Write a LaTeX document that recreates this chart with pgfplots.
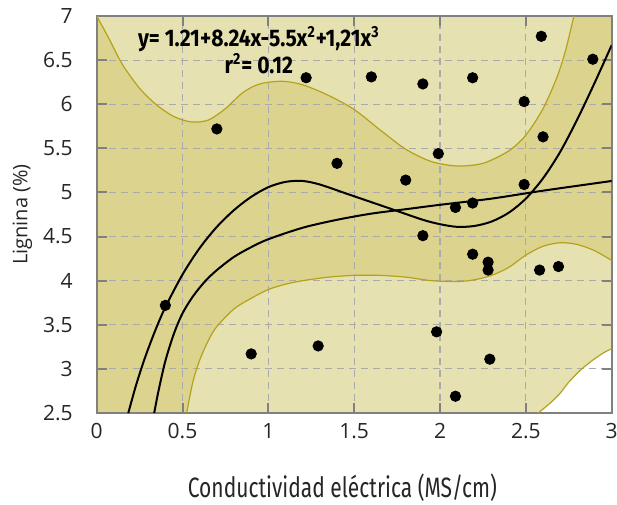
\documentclass[border=0pt]{standalone}
\usepackage{fontspec}
\setmainfont{Open Sans}
\newfontfamily\dinx[FakeStretch=0.75]{Fira Sans}
\newfontfamily\dinb[FakeStretch=0.88]{Fira Sans}
\usepackage{pgfplots}
\pgfplotsset{compat=1.18}

\definecolor{lighttan}{RGB}{230,225,176}
\definecolor{darktan}{RGB}{220,212,142}
\definecolor{olive}{RGB}{181,162,28}
\definecolor{axisgray}{RGB}{128,128,128}
\definecolor{gridgray}{RGB}{170,170,170}

\begin{document}
\begin{tikzpicture}
\begin{axis}[
  scale only axis, width=257.5pt, height=198.5pt,
  xmin=0, xmax=3, ymin=2.5, ymax=7,
  xtick={0,0.5,1,1.5,2,2.5,3},
  ytick={2.5,3,3.5,4,4.5,5,5.5,6,6.5,7},
  set layers,
  axis line style={draw=axisgray, line width=1pt},
  tick style={draw=axisgray, line width=1pt},
  major tick length=5pt,
  tick align=inside,
  grid=major,
  major grid style={draw=gridgray, line width=0.6pt, dash pattern=on 3.5pt off 2.5pt},
  tick label style={font=\fontsize{10.5}{12}\selectfont, text=black!85},
  xticklabel style={yshift=-1.7pt},
  yticklabel style={xshift=-8.5pt},
  /pgf/number format/assume math mode=true,
  xlabel={\dinx Conductividad eléctrica (MS/cm)},
  xlabel style={font=\fontsize{14}{16}\selectfont, text=black!85, at={(axis description cs:0.477,0)}, anchor=north, yshift=-27pt},
  ylabel={Lignina (\%)},
  ylabel style={font=\fontsize{10}{12}\selectfont, text=black!85, at={(axis description cs:-0.144,0.5)}, anchor=center},
]
% light background
\addplot[fill=lighttan, draw=none, on layer=axis background] coordinates {(0,2.5) (3,2.5) (3,7) (0,7) (0,2.5)};
% dark band between the upper and lower limits
\addplot[fill=darktan, draw=none, on layer=axis background] coordinates {
(0,7.0) (0.07,6.75) (0.15,6.45) (0.25,6.18) (0.35,5.99) (0.45,5.86) (0.55,5.80) (0.65,5.82) (0.75,5.95) (0.85,6.13) (0.95,6.23) (1.08,6.26) (1.2,6.22) (1.35,6.10) (1.5,5.94) (1.65,5.71) (1.8,5.49) (1.95,5.35) (2.1,5.30) (2.25,5.33) (2.4,5.47) (2.5,5.65) (2.6,5.95) (2.68,6.30) (2.73,6.60) (2.78,7.0)
(3,7) (3.0,4.23)
(2.9,4.34) (2.8,4.41) (2.7,4.43) (2.6,4.39) (2.5,4.29) (2.4,4.15) (2.3,4.06) (2.2,4.01) (2.1,3.99) (1.95,4.00) (1.8,4.04) (1.65,4.06) (1.5,4.06) (1.35,4.04) (1.2,4.00) (1.1,3.96) (1.0,3.90) (0.90,3.80) (0.80,3.68) (0.70,3.48) (0.65,3.32) (0.60,3.10) (0.56,2.85) (0.524,2.5)
(0,2.5) (0,7.0)};
% white area
\addplot[fill=white, draw=none, on layer=axis background] coordinates {
(2.572,2.5) (2.64,2.61) (2.698,2.72) (2.75,2.85) (2.815,2.98) (2.87,3.07) (2.912,3.13) (2.96,3.19) (3.0,3.23) (3,2.5) (2.572,2.5)};
% band edges
\addplot[olive, line width=0.6pt, smooth] coordinates {
(0,7.0) (0.07,6.75) (0.15,6.45) (0.25,6.18) (0.35,5.99) (0.45,5.86) (0.55,5.80) (0.65,5.82) (0.75,5.95) (0.85,6.13) (0.95,6.23) (1.08,6.26) (1.2,6.22) (1.35,6.10) (1.5,5.94) (1.65,5.71) (1.8,5.49) (1.95,5.35) (2.1,5.30) (2.25,5.33) (2.4,5.47) (2.5,5.65) (2.6,5.95) (2.68,6.30) (2.73,6.60) (2.78,7.0)};
\addplot[olive, line width=0.6pt, smooth] coordinates {
(0.524,2.5) (0.56,2.85) (0.60,3.10) (0.65,3.32) (0.70,3.48) (0.80,3.68) (0.90,3.80) (1.0,3.90) (1.1,3.96) (1.2,4.00) (1.35,4.04) (1.5,4.06) (1.65,4.06) (1.8,4.04) (1.95,4.00) (2.1,3.99) (2.2,4.01) (2.3,4.06) (2.4,4.15) (2.5,4.29) (2.6,4.39) (2.7,4.43) (2.8,4.41) (2.9,4.34) (3.0,4.23)};
\addplot[olive, line width=0.6pt, smooth] coordinates {
(2.572,2.5) (2.64,2.61) (2.698,2.72) (2.75,2.85) (2.815,2.98) (2.87,3.07) (2.912,3.13) (2.96,3.19) (3.0,3.23)};
% fitted curves
\addplot[black, line width=1pt, smooth] coordinates {
(0.335,2.5) (0.36,2.75) (0.40,3.09) (0.45,3.40) (0.50,3.63) (0.56,3.82) (0.63,3.99) (0.70,4.12) (0.80,4.27) (0.90,4.38) (1.0,4.47) (1.2,4.60) (1.4,4.69) (1.6,4.76) (1.8,4.81) (2.0,4.86) (2.3,4.93) (2.6,5.02) (3.0,5.13)};
\addplot[black, line width=1pt, smooth] coordinates {
(0.184,2.5) (0.23,2.82) (0.28,3.12) (0.34,3.43) (0.40,3.70) (0.50,4.07) (0.60,4.37) (0.70,4.61) (0.80,4.80) (0.90,4.95) (1.0,5.06) (1.1,5.12) (1.2,5.13) (1.3,5.09) (1.45,4.99) (1.6,4.89) (1.75,4.79) (1.9,4.69) (2.0,4.64) (2.1,4.61) (2.2,4.62) (2.3,4.67) (2.4,4.77) (2.5,4.93) (2.6,5.16) (2.7,5.46) (2.8,5.83) (2.9,6.24) (3.0,6.67)};
% data points
\addplot[only marks, mark=*, mark size=2.6pt, black] coordinates {
(0.40,3.72) (0.70,5.72) (0.90,3.17) (1.29,3.26) (1.22,6.30) (1.40,5.33) (1.60,6.31) (1.80,5.14) (1.90,6.23) (1.90,4.51) (1.99,5.44) (1.98,3.42) (2.09,4.83) (2.09,2.69) (2.19,6.30) (2.19,4.88) (2.19,4.30) (2.28,4.21) (2.28,4.12) (2.29,3.11) (2.49,6.03) (2.49,5.09) (2.59,6.77) (2.60,5.63) (2.58,4.12) (2.69,4.16) (2.89,6.51)};
\node[font=\dinb\bfseries\fontsize{12}{13.5}\selectfont, align=center, inner sep=0pt] at (axis cs:0.945,6.615) {y= 1.21+8.24x-5.5x\textsuperscript{2}+1,21x\textsuperscript{3}\\r\textsuperscript{2}= 0.12};
\end{axis}
\pgfresetboundingbox
\path (-48.35pt,-45.65pt) rectangle (260.15pt,206.5pt);
\end{tikzpicture}
\end{document}
